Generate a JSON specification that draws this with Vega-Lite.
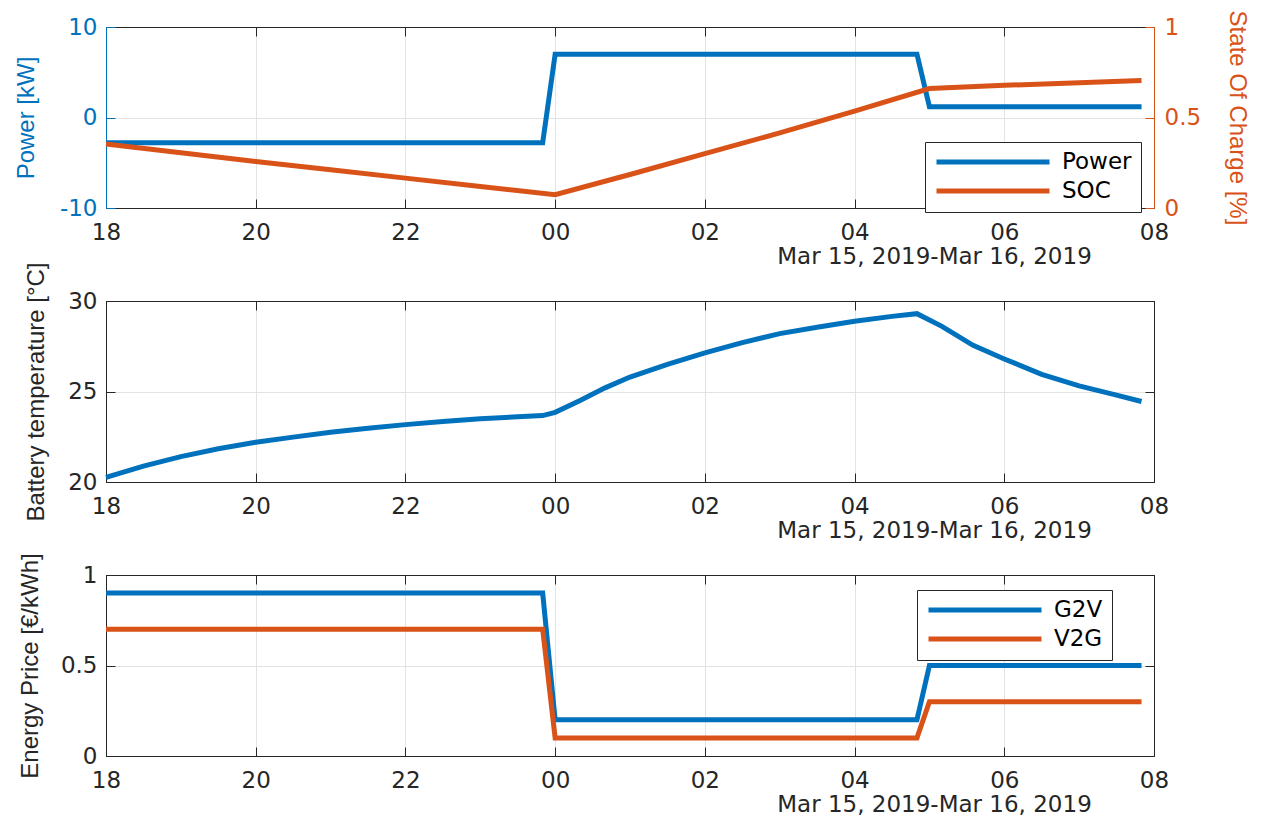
{
  "$schema": "https://vega.github.io/schema/vega-lite/v6.json",
  "background": "white",
  "padding": {"left": 13, "top": 9, "right": 5, "bottom": 5},
  "spacing": 93,
  "bounds": "flush",
  "config": {
    "font": "DejaVu Sans",
    "view": {"stroke": "#262626", "strokeWidth": 1},
    "axis": {
      "labelFont": "DejaVu Sans", "labelFontSize": 23, "labelColor": "#262626",
      "titleFont": "Liberation Sans", "titleFontSize": 24, "titleFontWeight": "normal", "titleColor": "#262626",
      "tickColor": "#262626", "tickSize": -9, "tickWidth": 1,
      "domainColor": "#262626", "domainWidth": 1,
      "gridColor": "#e3e3e3", "gridWidth": 1,
      "labelFlush": false, "labelOverlap": false
    },
    "legend": {
      "title": null, "orient": "none",
      "symbolType": "stroke", "symbolStrokeWidth": 5, "symbolSize": 12769,
      "clipHeight": 22, "rowPadding": 6, "padding": 9, "labelOffset": 10,
      "labelFont": "DejaVu Sans", "labelFontSize": 23, "labelColor": "#000000",
      "strokeColor": "#262626", "fillColor": "white", "cornerRadius": 0
    }
  },
  "datasets": {
    "power": [
      {"t": "2019-03-15T18:00:00", "kw": -2.8},
      {"t": "2019-03-15T23:50:00", "kw": -2.8},
      {"t": "2019-03-16T00:00:00", "kw": 7},
      {"t": "2019-03-16T04:50:00", "kw": 7},
      {"t": "2019-03-16T05:00:00", "kw": 1.2},
      {"t": "2019-03-16T07:50:00", "kw": 1.2}
    ],
    "soc": [
      {"t": "2019-03-15T18:00:00", "soc": 0.353},
      {"t": "2019-03-15T19:00:00", "soc": 0.305},
      {"t": "2019-03-15T20:00:00", "soc": 0.257},
      {"t": "2019-03-15T21:00:00", "soc": 0.211},
      {"t": "2019-03-15T22:00:00", "soc": 0.165},
      {"t": "2019-03-15T23:00:00", "soc": 0.119},
      {"t": "2019-03-16T00:00:00", "soc": 0.073},
      {"t": "2019-03-16T01:00:00", "soc": 0.185},
      {"t": "2019-03-16T02:00:00", "soc": 0.3},
      {"t": "2019-03-16T03:00:00", "soc": 0.415},
      {"t": "2019-03-16T04:00:00", "soc": 0.535},
      {"t": "2019-03-16T05:00:00", "soc": 0.66},
      {"t": "2019-03-16T06:00:00", "soc": 0.678},
      {"t": "2019-03-16T07:00:00", "soc": 0.692},
      {"t": "2019-03-16T07:50:00", "soc": 0.704}
    ],
    "temp": [
      {"t": "2019-03-15T18:00:00", "temp": 20.25},
      {"t": "2019-03-15T18:30:00", "temp": 20.88},
      {"t": "2019-03-15T19:00:00", "temp": 21.4},
      {"t": "2019-03-15T19:30:00", "temp": 21.84},
      {"t": "2019-03-15T20:00:00", "temp": 22.2},
      {"t": "2019-03-15T20:30:00", "temp": 22.48},
      {"t": "2019-03-15T21:00:00", "temp": 22.75},
      {"t": "2019-03-15T21:30:00", "temp": 22.97},
      {"t": "2019-03-15T22:00:00", "temp": 23.17},
      {"t": "2019-03-15T22:30:00", "temp": 23.34},
      {"t": "2019-03-15T23:00:00", "temp": 23.49},
      {"t": "2019-03-15T23:30:00", "temp": 23.6},
      {"t": "2019-03-15T23:50:00", "temp": 23.67},
      {"t": "2019-03-16T00:00:00", "temp": 23.85},
      {"t": "2019-03-16T00:20:00", "temp": 24.5},
      {"t": "2019-03-16T00:40:00", "temp": 25.2},
      {"t": "2019-03-16T01:00:00", "temp": 25.8},
      {"t": "2019-03-16T01:30:00", "temp": 26.5},
      {"t": "2019-03-16T02:00:00", "temp": 27.13},
      {"t": "2019-03-16T02:30:00", "temp": 27.7},
      {"t": "2019-03-16T03:00:00", "temp": 28.2},
      {"t": "2019-03-16T03:30:00", "temp": 28.55},
      {"t": "2019-03-16T04:00:00", "temp": 28.88},
      {"t": "2019-03-16T04:30:00", "temp": 29.15},
      {"t": "2019-03-16T04:50:00", "temp": 29.3},
      {"t": "2019-03-16T05:10:00", "temp": 28.6},
      {"t": "2019-03-16T05:35:00", "temp": 27.55},
      {"t": "2019-03-16T06:00:00", "temp": 26.8},
      {"t": "2019-03-16T06:30:00", "temp": 25.95},
      {"t": "2019-03-16T07:00:00", "temp": 25.31},
      {"t": "2019-03-16T07:30:00", "temp": 24.8},
      {"t": "2019-03-16T07:50:00", "temp": 24.45}
    ],
    "g2v": [
      {"t": "2019-03-15T18:00:00", "price": 0.9},
      {"t": "2019-03-15T23:50:00", "price": 0.9},
      {"t": "2019-03-16T00:00:00", "price": 0.2},
      {"t": "2019-03-16T04:50:00", "price": 0.2},
      {"t": "2019-03-16T05:00:00", "price": 0.5},
      {"t": "2019-03-16T07:50:00", "price": 0.5}
    ],
    "v2g": [
      {"t": "2019-03-15T18:00:00", "price": 0.7},
      {"t": "2019-03-15T23:50:00", "price": 0.7},
      {"t": "2019-03-16T00:00:00", "price": 0.1},
      {"t": "2019-03-16T04:50:00", "price": 0.1},
      {"t": "2019-03-16T05:00:00", "price": 0.3},
      {"t": "2019-03-16T07:50:00", "price": 0.3}
    ]
  },
  "resolve": {"scale": {"x": "independent", "color": "independent"}},
  "vconcat": [
    {
      "width": 1048, "height": 181,
      "layer": [
        {
          "data": {"name": "power"},
          "mark": {"type": "line", "strokeWidth": 5},
          "encoding": {
            "x": {"field": "t", "type": "temporal",
              "scale": {"domain": [{"year": 2019, "month": 3, "date": 15, "hours": 18}, {"year": 2019, "month": 3, "date": 16, "hours": 8}]},
              "axis": {"orient": "bottom", "format": "%H", "grid": true, "labelPadding": 22,
                "values": [{"year": 2019, "month": 3, "date": 15, "hours": 18}, {"year": 2019, "month": 3, "date": 15, "hours": 20}, {"year": 2019, "month": 3, "date": 15, "hours": 22}, {"year": 2019, "month": 3, "date": 16, "hours": 0}, {"year": 2019, "month": 3, "date": 16, "hours": 2}, {"year": 2019, "month": 3, "date": 16, "hours": 4}, {"year": 2019, "month": 3, "date": 16, "hours": 6}, {"year": 2019, "month": 3, "date": 16, "hours": 8}],
                "title": "Mar 15, 2019-Mar 16, 2019", "titleFont": "DejaVu Sans", "titleFontSize": 23, "titleX": 828, "titleY": 37, "titleBaseline": "top"}},
            "y": {"field": "kw", "type": "quantitative", "scale": {"domain": [-10, 10]},
              "axis": {"orient": "left", "values": [-10, 0, 10], "labelExpr": "'' + datum.value", "grid": true, "labelPadding": 18,
                "labelColor": "#0072BD", "tickColor": "#0072BD", "domainColor": "#0072BD",
                "title": "Power [kW]", "titleColor": "#0072BD", "titleX": -80, "titleBaseline": "middle"}},
            "color": {"datum": "Power", "type": "nominal",
              "scale": {"domain": ["Power", "SOC"], "range": ["#0072BD", "#D95319"]},
              "legend": {"legendX": 819, "legendY": 115}}
          }
        },
        {
          "data": {"name": "soc"},
          "mark": {"type": "line", "strokeWidth": 5},
          "encoding": {
            "x": {"field": "t", "type": "temporal",
              "scale": {"domain": [{"year": 2019, "month": 3, "date": 15, "hours": 18}, {"year": 2019, "month": 3, "date": 16, "hours": 8}]},
              "axis": {"orient": "top", "labels": false, "grid": false, "title": null,
                "values": [{"year": 2019, "month": 3, "date": 15, "hours": 18}, {"year": 2019, "month": 3, "date": 15, "hours": 20}, {"year": 2019, "month": 3, "date": 15, "hours": 22}, {"year": 2019, "month": 3, "date": 16, "hours": 0}, {"year": 2019, "month": 3, "date": 16, "hours": 2}, {"year": 2019, "month": 3, "date": 16, "hours": 4}, {"year": 2019, "month": 3, "date": 16, "hours": 6}, {"year": 2019, "month": 3, "date": 16, "hours": 8}]}},
            "y": {"field": "soc", "type": "quantitative", "scale": {"domain": [0, 1]},
              "axis": {"orient": "right", "values": [0, 0.5, 1], "labelExpr": "'' + datum.value", "grid": false, "labelPadding": 19,
                "labelColor": "#D95319", "tickColor": "#D95319", "domainColor": "#D95319",
                "title": "State Of Charge [%]", "titleColor": "#D95319", "titleX": 82, "titleBaseline": "middle"}},
            "color": {"datum": "SOC", "type": "nominal"}
          }
        }
      ],
      "resolve": {"scale": {"y": "independent"}, "axis": {"x": "independent", "y": "independent"}}
    },
    {
      "width": 1048, "height": 181,
      "layer": [
        {
          "data": {"name": "temp"},
          "mark": {"type": "line", "strokeWidth": 5, "color": "#0072BD"},
          "encoding": {
            "x": {"field": "t", "type": "temporal",
              "scale": {"domain": [{"year": 2019, "month": 3, "date": 15, "hours": 18}, {"year": 2019, "month": 3, "date": 16, "hours": 8}]},
              "axis": {"orient": "bottom", "format": "%H", "grid": true, "labelPadding": 22,
                "values": [{"year": 2019, "month": 3, "date": 15, "hours": 18}, {"year": 2019, "month": 3, "date": 15, "hours": 20}, {"year": 2019, "month": 3, "date": 15, "hours": 22}, {"year": 2019, "month": 3, "date": 16, "hours": 0}, {"year": 2019, "month": 3, "date": 16, "hours": 2}, {"year": 2019, "month": 3, "date": 16, "hours": 4}, {"year": 2019, "month": 3, "date": 16, "hours": 6}, {"year": 2019, "month": 3, "date": 16, "hours": 8}],
                "title": "Mar 15, 2019-Mar 16, 2019", "titleFont": "DejaVu Sans", "titleFontSize": 23, "titleX": 828, "titleY": 37, "titleBaseline": "top"}},
            "y": {"field": "temp", "type": "quantitative", "scale": {"domain": [20, 30]},
              "axis": {"orient": "left", "values": [20, 25, 30], "labelExpr": "'' + datum.value", "grid": true, "labelPadding": 18,
                "title": "Battery temperature [°C]", "titleX": -70, "titleBaseline": "middle"}}
          }
        },
        {
          "data": {"name": "temp"},
          "mark": {"type": "line", "strokeWidth": 5, "strokeOpacity": 0},
          "encoding": {
            "x": {"field": "t", "type": "temporal",
              "scale": {"domain": [{"year": 2019, "month": 3, "date": 15, "hours": 18}, {"year": 2019, "month": 3, "date": 16, "hours": 8}]},
              "axis": {"orient": "top", "labels": false, "grid": false, "title": null,
                "values": [{"year": 2019, "month": 3, "date": 15, "hours": 18}, {"year": 2019, "month": 3, "date": 15, "hours": 20}, {"year": 2019, "month": 3, "date": 15, "hours": 22}, {"year": 2019, "month": 3, "date": 16, "hours": 0}, {"year": 2019, "month": 3, "date": 16, "hours": 2}, {"year": 2019, "month": 3, "date": 16, "hours": 4}, {"year": 2019, "month": 3, "date": 16, "hours": 6}, {"year": 2019, "month": 3, "date": 16, "hours": 8}]}},
            "y": {"field": "temp", "type": "quantitative", "scale": {"domain": [20, 30]},
              "axis": {"orient": "right", "values": [20, 25, 30], "labels": false, "grid": false, "title": null}}
          }
        }
      ],
      "resolve": {"axis": {"x": "independent", "y": "independent"}}
    },
    {
      "width": 1048, "height": 181,
      "layer": [
        {
          "data": {"name": "g2v"},
          "mark": {"type": "line", "strokeWidth": 5},
          "encoding": {
            "x": {"field": "t", "type": "temporal",
              "scale": {"domain": [{"year": 2019, "month": 3, "date": 15, "hours": 18}, {"year": 2019, "month": 3, "date": 16, "hours": 8}]},
              "axis": {"orient": "bottom", "format": "%H", "grid": true, "labelPadding": 22,
                "values": [{"year": 2019, "month": 3, "date": 15, "hours": 18}, {"year": 2019, "month": 3, "date": 15, "hours": 20}, {"year": 2019, "month": 3, "date": 15, "hours": 22}, {"year": 2019, "month": 3, "date": 16, "hours": 0}, {"year": 2019, "month": 3, "date": 16, "hours": 2}, {"year": 2019, "month": 3, "date": 16, "hours": 4}, {"year": 2019, "month": 3, "date": 16, "hours": 6}, {"year": 2019, "month": 3, "date": 16, "hours": 8}],
                "title": "Mar 15, 2019-Mar 16, 2019", "titleFont": "DejaVu Sans", "titleFontSize": 23, "titleX": 828, "titleY": 37, "titleBaseline": "top"}},
            "y": {"field": "price", "type": "quantitative", "scale": {"domain": [0, 1]},
              "axis": {"orient": "left", "values": [0, 0.5, 1], "labelExpr": "'' + datum.value", "grid": true, "labelPadding": 18,
                "title": "Energy Price [€/kWh]", "titleX": -76, "titleBaseline": "middle"}},
            "color": {"datum": "G2V", "type": "nominal",
              "scale": {"domain": ["G2V", "V2G"], "range": ["#0072BD", "#D95319"]},
              "legend": {"legendX": 811, "legendY": 15}}
          }
        },
        {
          "data": {"name": "v2g"},
          "mark": {"type": "line", "strokeWidth": 5},
          "encoding": {
            "x": {"field": "t", "type": "temporal",
              "scale": {"domain": [{"year": 2019, "month": 3, "date": 15, "hours": 18}, {"year": 2019, "month": 3, "date": 16, "hours": 8}]},
              "axis": {"orient": "top", "labels": false, "grid": false, "title": null,
                "values": [{"year": 2019, "month": 3, "date": 15, "hours": 18}, {"year": 2019, "month": 3, "date": 15, "hours": 20}, {"year": 2019, "month": 3, "date": 15, "hours": 22}, {"year": 2019, "month": 3, "date": 16, "hours": 0}, {"year": 2019, "month": 3, "date": 16, "hours": 2}, {"year": 2019, "month": 3, "date": 16, "hours": 4}, {"year": 2019, "month": 3, "date": 16, "hours": 6}, {"year": 2019, "month": 3, "date": 16, "hours": 8}]}},
            "y": {"field": "price", "type": "quantitative", "scale": {"domain": [0, 1]},
              "axis": {"orient": "right", "values": [0, 0.5, 1], "labels": false, "grid": false, "title": null}},
            "color": {"datum": "V2G", "type": "nominal"}
          }
        }
      ],
      "resolve": {"axis": {"x": "independent", "y": "independent"}}
    }
  ]
}
